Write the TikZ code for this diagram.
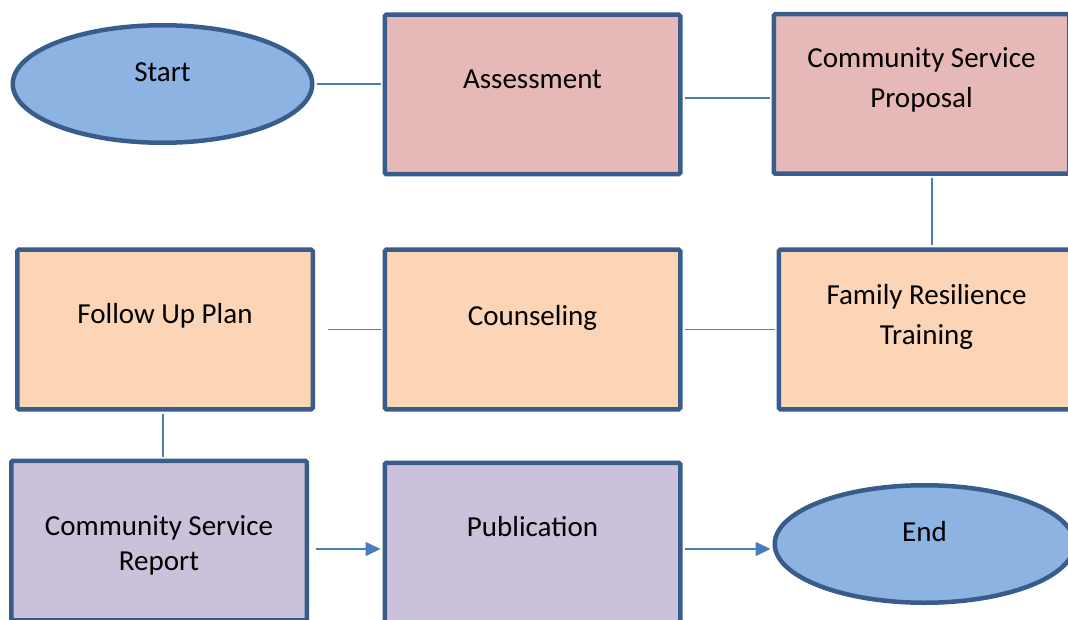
\documentclass[tikz,border=0pt]{standalone}
\usepackage{fontspec}
\setmainfont{Carlito}
\usetikzlibrary{arrows.meta,calc,shapes.geometric}
\definecolor{BorderClr}{RGB}{56,93,138}
\definecolor{LinkClr}{RGB}{74,126,187}
\definecolor{OvalClr}{RGB}{141,179,226}
\definecolor{PinkClr}{RGB}{230,185,184}
\definecolor{PeachClr}{RGB}{251,213,181}
\definecolor{LilacClr}{RGB}{204,193,218}

\tikzset{
  stepbox/.style={draw=BorderClr,line width=4.5pt,rounded corners=1.5pt,
    minimum width=295.5pt,minimum height=159.5pt,inner sep=0pt},
  oval/.style={ellipse,draw=BorderClr,line width=4.5pt,fill=OvalClr,
    minimum width=299.5pt,minimum height=117.5pt,inner sep=0pt},
  txt/.style={font=\fontsize{29}{40}\selectfont,align=center,inner sep=0pt},
  link/.style={draw=LinkClr,line width=1.6pt,shorten <=2pt,shorten >=2pt},
  flow/.style={link,-{Triangle[length=15pt,width=14pt]}}
}

\begin{document}
\begin{tikzpicture}[x=1pt,y=-1pt]
\useasboundingbox (0,0) rectangle (1068,620);
\clip (0,0) rectangle (1068,620);

% top row
\node[oval,label={[txt,yshift=11.5]center:Start}] (start) at (162.5,84) {};
\node[stepbox,fill=PinkClr,label={[txt,yshift=14.8]center:Assessment}] (assess) at (532.5,94.5) {};
\node[stepbox,fill=PinkClr,label={[txt,yshift=14]center:Community Service\\Proposal}] (proposal) at (921.5,94) {};

% middle row
\node[stepbox,fill=PeachClr,label={[txt,yshift=13]center:Family Resilience\\Training}] (training) at (926.5,329.5) {};
\node[stepbox,fill=PeachClr,label={[txt,yshift=12]center:Counseling}] (counsel) at (532.5,329.5) {};
\node[stepbox,fill=PeachClr,label={[txt,yshift=14]center:Follow Up Plan}] (followup) at (165,329.5) {};

% bottom row
\node[stepbox,fill=LilacClr,label={[txt,yshift=-5,font=\fontsize{29}{35}\selectfont]center:Community Service\\Report}] (report) at (159,540.5) {};
\node[stepbox,fill=LilacClr,label={[txt,yshift=15.5]center:Publication}] (publish) at (532.5,542.5) {};
\node[oval,label={[txt,yshift=12]center:End}] (finish) at (924.5,544) {};

% connectors
\draw[link] (start.east) -- (start.east -| assess.west);
\draw[link] ([yshift=-3.5]assess.east) -- ([yshift=-3.5]assess.east -| proposal.west);
\draw[link] ([xshift=10.5]proposal.south) -- ([xshift=10.5]proposal.south |- training.north);
\draw[link] (counsel.east) -- (counsel.east -| training.west);
\coordinate (gap) at ([xshift=11]followup.east);
\draw[link] (gap) -- (gap -| counsel.west);
\draw[link] ([xshift=-2]followup.south) -- ([xshift=-2]followup.south |- report.north);
\coordinate (tail) at ([xshift=5,yshift=-8.5]report.east);
\draw[flow] (tail) -- (tail -| publish.west);
\draw[flow] ([yshift=-6.5]publish.east) -- ([yshift=-6.5]publish.east -| finish.west);

\end{tikzpicture}
\end{document}
